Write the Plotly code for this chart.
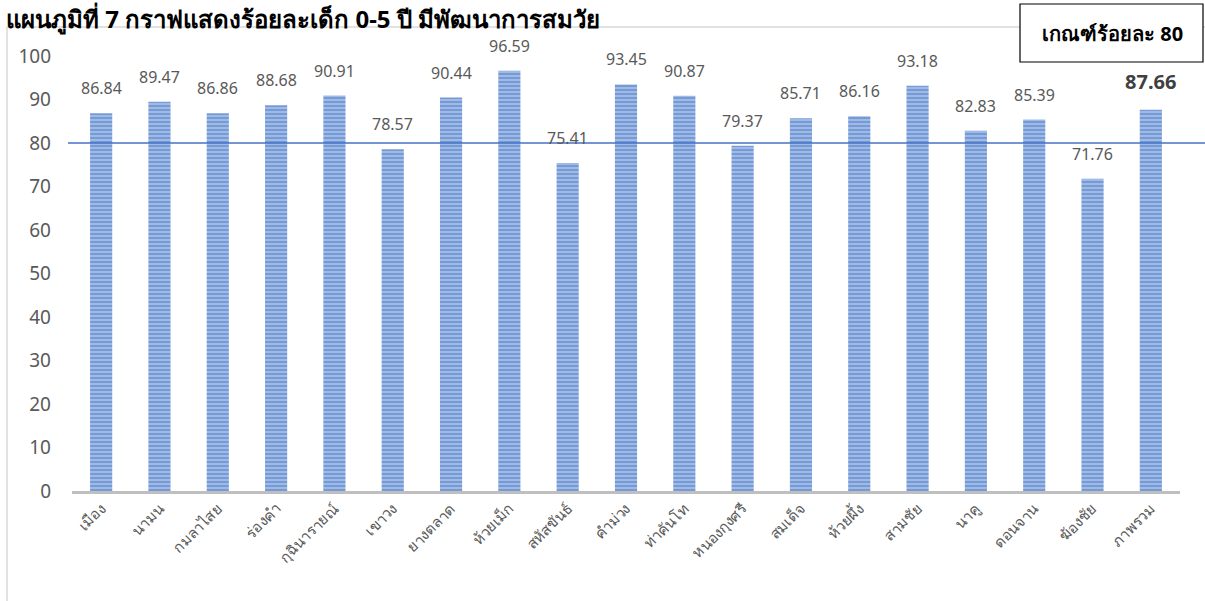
import plotly.graph_objects as go

# ---------------- data ----------------
districts = ["เมือง", "นามน", "กมลาไสย", "ร่องคำ", "กุฉินารายณ์", "เขาวง", "ยางตลาด",
             "ห้วยเม็ก", "สหัสขันธ์", "คำม่วง", "ท่าคันโท", "หนองกุงศรี", "สมเด็จ",
             "ห้วยผึ้ง", "สามชัย", "นาคู", "ดอนจาน", "ฆ้องชัย", "ภาพรวม"]
percent = [86.84, 89.47, 86.86, 88.68, 90.91, 78.57, 90.44, 96.59, 75.41, 93.45,
           90.87, 79.37, 85.71, 86.16, 93.18, 82.83, 85.39, 71.76, 87.66]
threshold = 80
y_ticks = [0, 10, 20, 30, 40, 50, 60, 70, 80, 90, 100]
title_text = "แผนภูมิที่ 7 กราฟแสดงร้อยละเด็ก 0-5 ปี มีพัฒนาการสมวัย"
legend_text = "เกณฑ์ร้อยละ 80"

# ---------------- layout geometry ----------------
W, H = 1205, 601
L, R, T, B = 72, 1180, 56, 491
FONT = "Noto Sans, DejaVu Sans, sans-serif"


def fx(px):
    return (px - L) / (R - L)


def fy(py):
    return (B - py) / (B - T)


fig = go.Figure()
fig.add_trace(go.Bar(
    x=districts, y=percent, width=0.38,
    marker=dict(color="#9fbae4", line=dict(width=0),
                pattern=dict(shape="-", fgcolor="#4472C4", bgcolor="#a9c2e8",
                             size=4, solidity=0.6)),
    hoverinfo="x+y", showlegend=False,
))

annotations = []
for i, (c, v) in enumerate(zip(districts, percent)):
    last = i == len(districts) - 1
    annotations.append(dict(
        x=c, y=v, xref="x", yref="y", text=f"{v:.2f}", showarrow=False,
        yanchor="middle", yshift=25 if not last else 28,
        font=dict(family=FONT, size=20 if last else 16,
                  color="#404040" if last else "#595959",
                  weight="bold" if last else "normal"),
    ))

annotations.append(dict(
    x=fx(4), y=fy(19), xref="paper", yref="paper", xanchor="left", yanchor="middle",
    text=f"<b>{title_text}</b>", showarrow=False,
    font=dict(family=FONT, size=24, color="#000000"),
))
annotations.append(dict(
    x=fx(1112), y=fy(34), xref="paper", yref="paper", xanchor="center", yanchor="middle",
    text=f"<b>{legend_text}</b>", showarrow=False,
    font=dict(family=FONT, size=20, color="#000000"),
))

shapes = [
    dict(type="rect", xref="paper", yref="paper", x0=fx(7), x1=fx(1230), y0=fy(27), y1=fy(640),
         line=dict(color="#d9d9d9", width=1.5), fillcolor="rgba(0,0,0,0)", layer="below"),
    dict(type="rect", xref="paper", yref="paper", x0=fx(1020), x1=fx(1203), y0=fy(4), y1=fy(62),
         line=dict(color="#000000", width=1.2), fillcolor="#ffffff", layer="above"),
    dict(type="line", xref="paper", yref="y", x0=fx(68), x1=fx(1210), y0=threshold, y1=threshold,
         line=dict(color="#4472C4", width=1.6), layer="above"),
]

fig.update_layout(
    width=W, height=H,
    margin=dict(l=L, r=W - R, t=T, b=H - B, pad=0),
    paper_bgcolor="#ffffff", plot_bgcolor="#ffffff",
    font=dict(family=FONT, color="#595959"),
    annotations=annotations, shapes=shapes,
    xaxis=dict(showgrid=False, showline=True, linecolor="#bfbfbf", linewidth=3,
               tickangle=-45, tickfont=dict(size=15, color="#595959"),
               ticks="", zeroline=False),
    yaxis=dict(range=[0, 100], tickvals=y_ticks, showgrid=False, zeroline=False,
               showline=False, tickfont=dict(size=19, color="#595959"),
               ticklabelstandoff=20),
    bargap=0.62,
)

fig.write_html("out.html")
